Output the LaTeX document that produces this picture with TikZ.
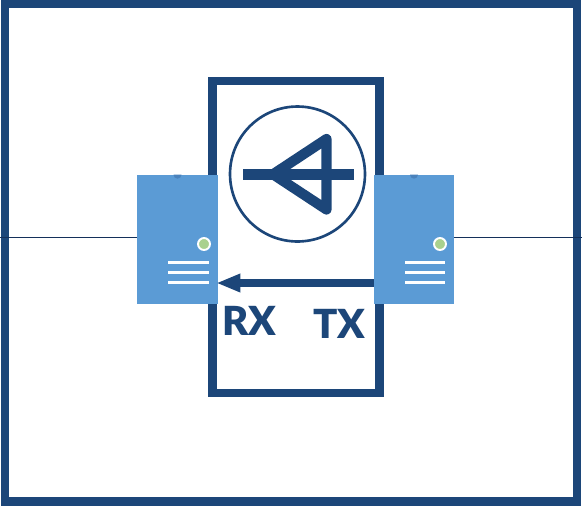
\documentclass[tikz,border=0pt]{standalone}
\usepackage{fontspec}
\setsansfont{Lato}[BoldFont={Lato Black}]
\usepackage{tikz}
\usetikzlibrary{arrows.meta,positioning,calc}
\definecolor{navy}{HTML}{1C4679}
\definecolor{wirenavy}{HTML}{14305A}
\definecolor{srvblue}{HTML}{5B9BD5}
\definecolor{srvdark}{HTML}{4A82BC}
\definecolor{ledgreen}{HTML}{A9D18E}
\tikzset{
  frame/.style={draw=navy,line width=4.6pt},
  server/.style={fill=srvblue,inner sep=0pt,minimum width=1.6cm,minimum height=2.58cm},
  led/.style={circle,draw=white,fill=ledgreen,line width=1.1pt,inner sep=0pt,minimum size=.24cm},
  bar/.style={draw=white,line width=1.7pt},
  portlabel/.style={navy,font=\sffamily\bfseries\fontsize{22.8}{22.8}\selectfont,inner sep=0pt},
  glyph/.style={draw=navy,line width=5.8pt,line join=round},
  wire/.style={draw=wirenavy,line width=.7pt}
}
\begin{document}
\begin{tikzpicture}[x=.02cm,y=-.02cm]
    \useasboundingbox (0,0) rectangle (582,505);
    \draw[frame] (5,3.5) rectangle (577,501.5);
    \draw[frame] (212.5,81) rectangle (379.5,393);

    % amplifier symbol
    \node[circle,draw=navy,line width=1.5pt,minimum size=2.7cm,inner sep=0pt] (amp) at (297.5,174) {};
    \draw[glyph] (243,174.5) -- (354,174.5);
    \draw[glyph] (273,174.3) -- (326.5,139) -- (326.5,209.5) -- cycle;

    % the two servers
    \node[server,minimum width=1.62cm] (rx) at (177.5,239.5) {};
    \node[server] (tx) at (414,239.5) {};
    \fill[srvdark] ($(rx.north)+(-4,0)$) arc[start angle=180,end angle=0,radius=4];
    \fill[srvdark] ($(tx.north)+(-4,0)$) arc[start angle=180,end angle=0,radius=4];
    \node[led] (rxled) at (204,244) {};
    \node[led] (txled) at (440,244) {};
    \foreach \y in {262,272,282} {
      \draw[bar] (168,\y) -- (209,\y);
      \draw[bar] (405,\y) -- (445,\y);
    }

    % line
    \coordinate (wl) at (0,237.5);
    \coordinate (wr) at (582,237.5);
    \draw[wire] (wl) -- (wl -| rx.west);
    \draw[wire] (wr -| tx.east) -- (wr);

    \coordinate (port) at (0,283);
    \draw[navy,line width=4.6pt,shorten >=-1.2pt,-{Triangle[length=13.7pt,width=9.7pt]}] (port -| tx.west) -- (port -| rx.east);

    \node[portlabel] (rxlabel) at (249.5,321) {RX};
    \node[portlabel] (txlabel) at (339.5,324) {TX};
  \end{tikzpicture}
\end{document}
